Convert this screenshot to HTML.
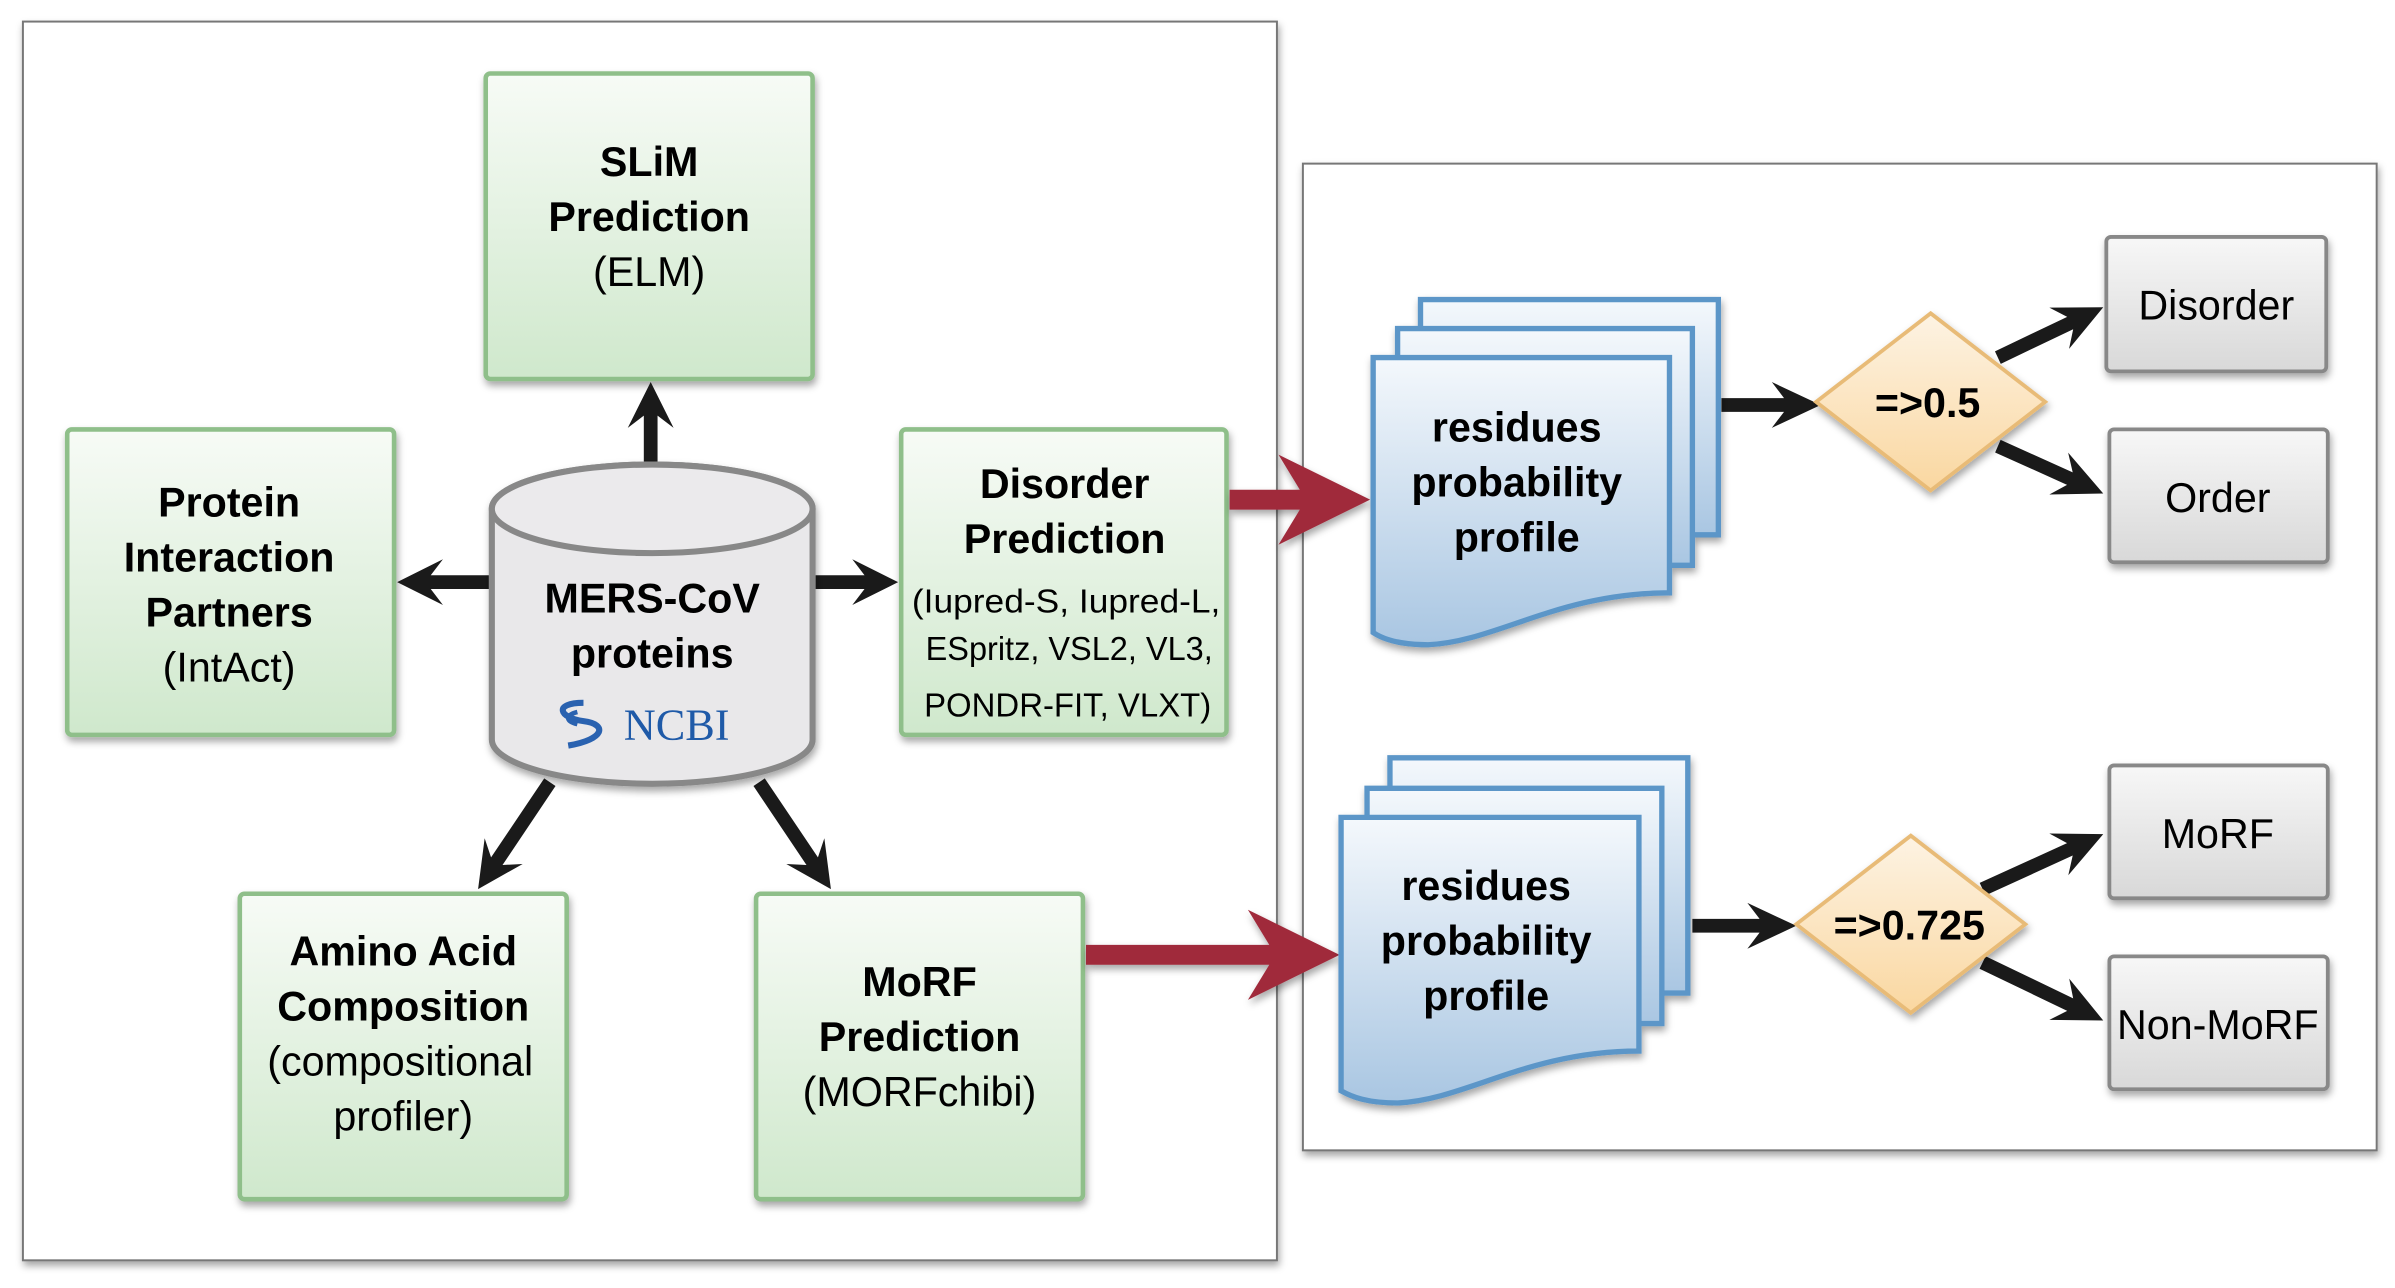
<!DOCTYPE html>
<html><head><meta charset="utf-8"><style>
html,body{margin:0;padding:0;background:#fff;}
svg{display:block;}
text{font-family:"Liberation Sans",sans-serif;text-anchor:middle;fill:#000;}
.b{font-weight:bold;font-size:27px;}
.r{font-size:27px;}
.s{font-size:22px;}
</style></head><body>
<svg id="s" width="2395" height="1288" viewBox="0 0 1568 843" xmlns="http://www.w3.org/2000/svg">
<defs>
<linearGradient id="gg" x1="0" y1="0" x2="0" y2="1"><stop offset="0" stop-color="#f7fbf6"/><stop offset="1" stop-color="#cfe8cc"/></linearGradient>
<linearGradient id="gb" x1="0" y1="0" x2="0" y2="1"><stop offset="0" stop-color="#f4f8fc"/><stop offset="1" stop-color="#a9c6e2"/></linearGradient>
<linearGradient id="gy" x1="0" y1="0" x2="0" y2="1"><stop offset="0" stop-color="#fdf3e3"/><stop offset="1" stop-color="#fad7a0"/></linearGradient>
<linearGradient id="gr" x1="0" y1="0" x2="0" y2="1"><stop offset="0" stop-color="#f7f7f7"/><stop offset="1" stop-color="#d8d8d8"/></linearGradient>
<filter id="sh" x="-10%" y="-10%" width="130%" height="130%"><feDropShadow dx="1" dy="3" stdDeviation="2.5" flood-color="#000" flood-opacity="0.35"/></filter>
</defs>
<rect x="15" y="14" width="821" height="811" fill="#fff" stroke="#777" stroke-width="1.3" filter="url(#sh)"/>
<rect x="853" y="107" width="703" height="646" fill="#fff" stroke="#777" stroke-width="1.3" filter="url(#sh)"/>

<g stroke="#8fbf8a" stroke-width="3" fill="url(#gg)" filter="url(#sh)">
<rect x="318" y="48" width="214" height="200" rx="3"/>
<rect x="44" y="281" width="214" height="200" rx="3"/>
<rect x="590" y="281" width="213" height="200" rx="3"/>
<rect x="157" y="585" width="214" height="200" rx="3"/>
<rect x="495" y="585" width="214" height="200" rx="3"/>
</g>

<g id="arrows"></g>

<g filter="url(#sh)">
<path d="M322 333 L322 484 A105 29 0 0 0 532 484 L532 333 A105 29 0 0 0 322 333 Z" fill="#e9e8ea" stroke="#888" stroke-width="4"/>
<ellipse cx="427" cy="333" rx="105" ry="29" fill="#ebeaec" stroke="#888" stroke-width="4"/>
</g>

<g stroke="#5b96c8" stroke-width="3.5" fill="url(#gb)" filter="url(#sh)">
<path d="M930 196 H1125 V350 H930 Z"/>
<path d="M915 215 H1108 V370 H915 Z"/>
<path d="M899 234 H1093 V388 C1020 388 980 420 935 422 C915 422 905 418 899 414 Z"/>
<path d="M910 496 H1105 V650 H910 Z"/>
<path d="M895 516 H1088 V670 H895 Z"/>
<path d="M878 535 H1073 V688 C1000 688 960 720 915 722 C895 722 885 718 878 714 Z"/>
</g>

<g stroke="#e8bb77" stroke-width="2.5" fill="url(#gy)" filter="url(#sh)">
<path d="M1264 205 L1339 263 L1264 321 L1189 263 Z"/>
<path d="M1251 547 L1326 605 L1251 663 L1176 605 Z"/>
</g>

<g stroke="#888" stroke-width="2.5" fill="url(#gr)" filter="url(#sh)">
<rect x="1379" y="155" width="144" height="88" rx="3"/>
<rect x="1381" y="281" width="143" height="87" rx="3"/>
<rect x="1381" y="501" width="143" height="87" rx="3"/>
<rect x="1381" y="626" width="143" height="87" rx="3"/>
</g>

<text class="b" x="425" y="115">SLiM</text>
<text class="b" x="425" y="151">Prediction</text>
<text class="r" x="425" y="187">(ELM)</text>

<text class="b" x="150" y="338">Protein</text>
<text class="b" x="150" y="374">Interaction</text>
<text class="b" x="150" y="410">Partners</text>
<text class="r" x="150" y="446">(IntAct)</text>

<text class="b" x="697" y="326">Disorder</text>
<text class="b" x="697" y="362">Prediction</text>
<text class="s" x="698" y="401" textLength="202" lengthAdjust="spacingAndGlyphs">(Iupred-S, Iupred-L,</text>
<text class="s" x="700" y="432" textLength="188" lengthAdjust="spacingAndGlyphs">ESpritz, VSL2, VL3,</text>
<text class="s" x="699" y="469" textLength="188" lengthAdjust="spacingAndGlyphs">PONDR-FIT, VLXT)</text>

<text class="b" x="264" y="632">Amino Acid</text>
<text class="b" x="264" y="668">Composition</text>
<text class="r" x="262" y="704">(compositional</text>
<text class="r" x="264" y="740">profiler)</text>

<text class="b" x="602" y="652">MoRF</text>
<text class="b" x="602" y="688">Prediction</text>
<text class="r" x="602" y="724">(MORFchibi)</text>

<text class="b" x="427" y="401">MERS-CoV</text>
<text class="b" x="427" y="437">proteins</text>
<text x="443" y="484" style="font-family:'Liberation Serif',serif;font-size:29px;fill:#1f5aa8">NCBI</text>
<path d="M382 460 C362 460 366 470 382 472 C398 474 396 484 372 488" fill="none" stroke="#2a62b0" stroke-width="4"/>
<path d="M378 466 C370 468 370 472 378 474" fill="none" stroke="#2a62b0" stroke-width="3"/>

<text class="b" x="993" y="289">residues</text>
<text class="b" x="993" y="325">probability</text>
<text class="b" x="993" y="361">profile</text>
<text class="b" x="973" y="589">residues</text>
<text class="b" x="973" y="625">probability</text>
<text class="b" x="973" y="661">profile</text>

<text class="b" x="1262" y="273">=&gt;0.5</text>
<text class="b" x="1250" y="615">=&gt;0.725</text>

<text class="r" x="1451" y="209">Disorder</text>
<text class="r" x="1452" y="335">Order</text>
<text class="r" x="1452" y="555">MoRF</text>
<text class="r" x="1452" y="680">Non-MoRF</text>
</svg>
<script>
var g=document.getElementById('arrows');
function arrow(x1,y1,x2,y2,w,hw,hl,notch,col){
 var dx=x2-x1,dy=y2-y1,L=Math.hypot(dx,dy),ux=dx/L,uy=dy/L,px=-uy,py=ux;
 function P(a,b){return (x1+ux*a+px*b).toFixed(1)+','+(y1+uy*a+py*b).toFixed(1);}
 var hb=L-hl;
 var pts=[P(0,-w/2),P(hb+notch,-w/2),P(hb,-hw/2),P(L,0),P(hb,hw/2),P(hb+notch,w/2),P(0,w/2)];
 var p=document.createElementNS('http://www.w3.org/2000/svg','polygon');
 p.setAttribute('points',pts.join(' '));p.setAttribute('fill',col);
 if(col!='#1a1a1a')p.setAttribute('filter','url(#sh)');
 g.appendChild(p);
}
var k='#1a1a1a';
arrow(426,302,426,250,9,30,30,8,k);
arrow(321,381,260,381,9,30,30,8,k);
arrow(533,381,588,381,9,30,30,8,k);
arrow(360,512,313,582,9,30,30,8,k);
arrow(497,512,544,582,9,30,30,8,k);
arrow(1127,265,1192,265,9,30,32,8,k);
arrow(1108,606,1176,606,9,30,32,8,k);
arrow(1308,234,1377,201,9,30,32,8,k);
arrow(1308,292,1377,323,9,30,32,8,k);
arrow(1298,582,1377,546,9,30,32,8,k);
arrow(1298,630,1377,668,9,30,32,8,k);
var r='#a02a3b';
arrow(805,327,897,327,13,59,60,14,r);
arrow(711,625,877,625,13,59,60,14,r);
</script>
</body></html>
